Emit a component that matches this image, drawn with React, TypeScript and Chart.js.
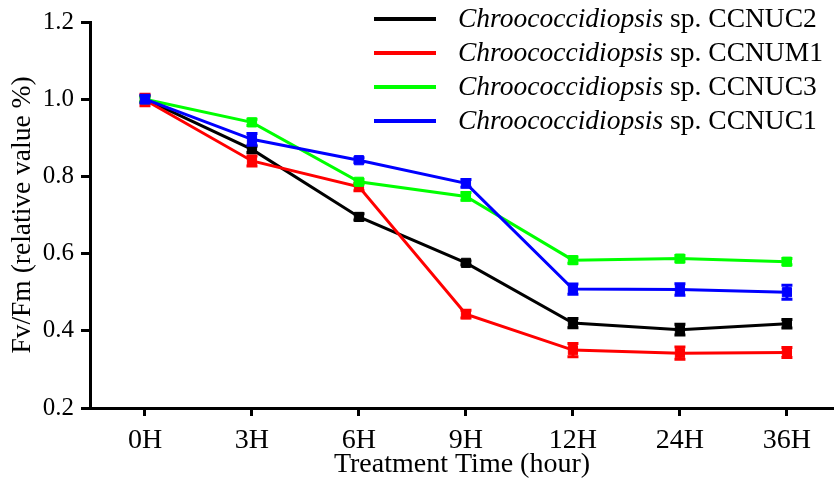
import React, { useEffect, useRef } from "react";
import { Chart, registerables } from "chart.js";

Chart.register(...registerables);

const timeLabels = ["0H", "3H", "6H", "9H", "12H", "24H", "36H"];
const yTicks = [0.2, 0.4, 0.6, 0.8, 1.0, 1.2];

const seriesNames = ["CCNUC2", "CCNUM1", "CCNUC3", "CCNUC1"];
const genusName = "Chroococcidiopsis";
const seriesColors = ["#000000", "#ff0000", "#00ff00", "#0000ff"];

const ccnuc2 = [1.0, 0.87, 0.695, 0.576, 0.42, 0.403, 0.418];
const ccnum1 = [0.998, 0.84, 0.773, 0.443, 0.35, 0.342, 0.344];
const ccnuc3 = [1.0, 0.94, 0.786, 0.748, 0.583, 0.587, 0.579];
const ccnuc1 = [1.0, 0.896, 0.842, 0.782, 0.508, 0.507, 0.5];

const ccnuc2Err = [0.008, 0.008, 0.008, 0.005, 0.012, 0.014, 0.011];
const ccnum1Err = [0.015, 0.013, 0.01, 0.01, 0.017, 0.016, 0.013];
const ccnuc3Err = [0.005, 0.008, 0.006, 0.01, 0.008, 0.008, 0.008];
const ccnuc1Err = [0.01, 0.015, 0.006, 0.01, 0.013, 0.015, 0.018];

const seriesValues = [ccnuc2, ccnum1, ccnuc3, ccnuc1];
const seriesErrors = [ccnuc2Err, ccnum1Err, ccnuc3Err, ccnuc1Err];
const drawOrder = [3, 2, 1, 0];

const FONT = "'Liberation Serif', 'Times New Roman', serif";

const errorBarPlugin = {
  id: "errorBars",
  afterDatasetDraw(chart: any, args: any) {
    const i = args.index;
    const meta = args.meta;
    const errs = seriesErrors[i];
    const vals = seriesValues[i];
    const ys = chart.scales.y;
    const ctx = chart.ctx;
    ctx.save();
    ctx.strokeStyle = seriesColors[i];
    ctx.lineWidth = 3;
    meta.data.forEach((pt: any, j: number) => {
      const x = pt.x;
      const top = ys.getPixelForValue(vals[j] + errs[j]);
      const bot = ys.getPixelForValue(vals[j] - errs[j]);
      ctx.beginPath();
      ctx.moveTo(x, top);
      ctx.lineTo(x, bot);
      ctx.moveTo(x - 5.5, top);
      ctx.lineTo(x + 5.5, top);
      ctx.moveTo(x - 5.5, bot);
      ctx.lineTo(x + 5.5, bot);
      ctx.stroke();
    });
    ctx.restore();
  },
};

const legendPlugin = {
  id: "customLegend",
  afterDraw(chart: any) {
    const ctx = chart.ctx;
    ctx.save();
    const x0 = 374;
    const x1 = 436;
    const tx = 458;
    const rowY = [19, 53, 87, 121];
    const fs = 27.5;
    seriesNames.forEach((name, i) => {
      const y = rowY[i];
      ctx.strokeStyle = seriesColors[i];
      ctx.lineWidth = 4;
      ctx.beginPath();
      ctx.moveTo(x0, y);
      ctx.lineTo(x1, y);
      ctx.stroke();
      ctx.fillStyle = "#000";
      ctx.textBaseline = "middle";
      ctx.textAlign = "left";
      ctx.font = `italic ${fs}px ${FONT}`;
      ctx.fillText(genusName, tx, y + 1);
      const w = ctx.measureText(genusName).width;
      ctx.font = `${fs}px ${FONT}`;
      ctx.fillText(" sp. " + name, tx + w, y + 1);
    });
    ctx.restore();
  },
};

export default function App() {
  const ref = useRef<HTMLCanvasElement | null>(null);
  useEffect(() => {
    document.body.style.margin = "0";
    if (!ref.current) return;
    const chart = new Chart(ref.current, {
      type: "line",
      data: {
        datasets: seriesValues.map((vals, i) => ({
          label: seriesNames[i],
          data: vals.map((v, j) => ({ x: j, y: v })),
          borderColor: seriesColors[i],
          backgroundColor: seriesColors[i],
          borderWidth: 3,
          pointStyle: "rect",
          pointRadius: 6.5,
          pointBorderWidth: 1,
          tension: 0,
          order: drawOrder[i],
        })),
      },
      options: {
        responsive: false,
        animation: false,
        layout: { autoPadding: false, padding: { top: 20, right: 0, left: 0, bottom: 0 } },
        plugins: {
          legend: { display: false },
          tooltip: { enabled: false },
        },
        scales: {
          x: {
            type: "linear",
            min: -0.514,
            max: 6.44,
            border: { display: true, color: "#000", width: 3 },
            grid: {
              display: true,
              drawOnChartArea: false,
              drawTicks: true,
              tickLength: 8,
              tickWidth: 3,
              tickColor: "#000",
            },
            afterBuildTicks(scale: any) {
              scale.ticks = timeLabels.map((_, j) => ({ value: j }));
            },
            ticks: {
              color: "#000",
              font: { family: FONT, size: 28 },
              padding: 8,
              maxRotation: 0,
              autoSkip: false,
              callback: (v: any) => timeLabels[Number(v)] ?? "",
            },
            title: {
              display: true,
              text: "Treatment Time (hour)",
              color: "#000",
              font: { family: FONT, size: 28 },
              padding: { top: 0, bottom: 0 },
            },
            afterFit(scale: any) {
              scale.height = 73;
              scale.paddingLeft = 0;
              scale.paddingRight = 0;
            },
          },
          y: {
            min: 0.2,
            max: 1.2,
            border: { display: true, color: "#000", width: 3 },
            grid: {
              display: true,
              drawOnChartArea: false,
              drawTicks: true,
              tickLength: 9,
              tickWidth: 3,
              tickColor: "#000",
            },
            afterBuildTicks(scale: any) {
              scale.ticks = yTicks.map((v) => ({ value: v }));
            },
            ticks: {
              color: "#000",
              font: { family: FONT, size: 25 },
              padding: 7,
              callback: (v: any) => Number(v).toFixed(1),
            },
            title: {
              display: true,
              text: "Fv/Fm (relative value %)",
              color: "#000",
              font: { family: FONT, size: 27.5 },
              padding: { top: 6, bottom: 0 },
            },
            afterFit(scale: any) {
              scale.width = 90;
            },
          },
        },
      },
      plugins: [errorBarPlugin, legendPlugin],
    } as any);
    return () => chart.destroy();
  }, []);
  return (
    <div style={{ width: 834, height: 481 }}>
      <canvas ref={ref} width={834} height={481} />
    </div>
  );
}
